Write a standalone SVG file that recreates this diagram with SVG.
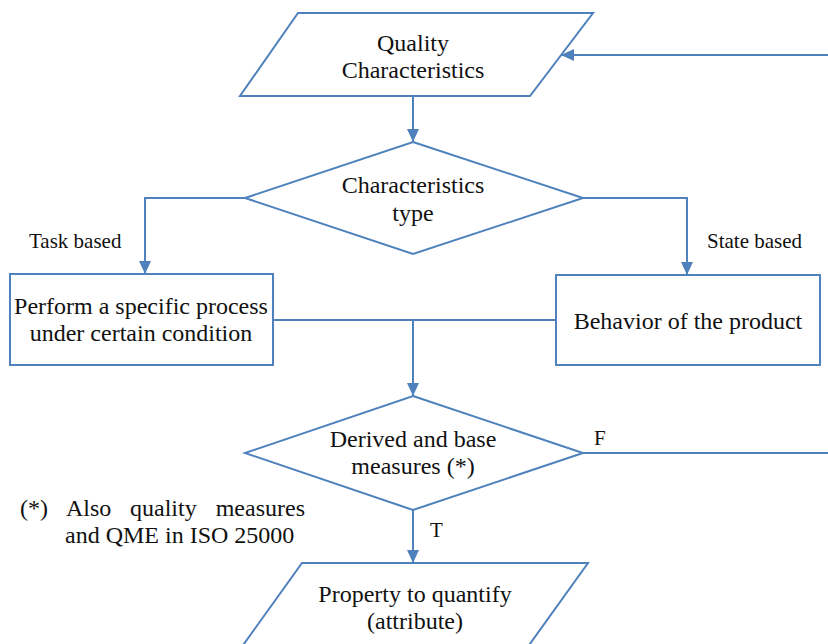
<svg xmlns="http://www.w3.org/2000/svg" width="828" height="644" viewBox="0 0 828 644">
  <defs>
    <marker id="arrow" viewBox="0 0 10 10" refX="10" refY="5" markerWidth="13" markerHeight="12" markerUnits="userSpaceOnUse" orient="auto" preserveAspectRatio="none">
      <path d="M0,0 L10,5 L0,10 z" fill="#4f81bd"/>
    </marker>
  </defs>
  <rect width="828" height="644" fill="#ffffff"/>

  <!-- connectors share one stroke style -->
  <g id="connectors" fill="none" stroke="#4f81bd" stroke-width="2">
    <path d="M828,55 L561,55" marker-end="url(#arrow)"/>
    <path d="M413,96 L413,142" marker-end="url(#arrow)"/>
    <path d="M245,198 L145,198 L145,274" marker-end="url(#arrow)"/>
    <path d="M583,198 L687,198 L687,275" marker-end="url(#arrow)"/>
    <path d="M273,320 L556,320"/>
    <path d="M413,320 L413,396" marker-end="url(#arrow)"/>
    <path d="M583,453 L828,453"/>
    <path d="M413,510 L413,563" marker-end="url(#arrow)"/>
  </g>

  <!-- nodes: white fill, blue outline, serif text -->
  <g id="nodes" fill="#ffffff" stroke="#4f81bd" stroke-width="2">
    <g id="quality-characteristics">
      <polygon points="298,13 593,13 530,96 240,96"/>
      <text stroke="none" fill="#111111" font-family="Liberation Serif" font-size="24" text-anchor="middle" x="413" y="51">Quality</text>
      <text stroke="none" fill="#111111" font-family="Liberation Serif" font-size="24" text-anchor="middle" x="413" y="78">Characteristics</text>
    </g>

    <g id="characteristics-type">
      <polygon points="413,142 583,198 413,254 245,198"/>
      <text stroke="none" fill="#111111" font-family="Liberation Serif" font-size="24" text-anchor="middle" x="413" y="193">Characteristics</text>
      <text stroke="none" fill="#111111" font-family="Liberation Serif" font-size="24" text-anchor="middle" x="413" y="221">type</text>
    </g>

    <g id="specific-process">
      <rect x="10" y="274" width="263" height="91"/>
      <text stroke="none" fill="#111111" font-family="Liberation Serif" font-size="24" text-anchor="middle" x="141" y="314">Perform a specific process</text>
      <text stroke="none" fill="#111111" font-family="Liberation Serif" font-size="24" text-anchor="middle" x="141" y="341">under certain condition</text>
    </g>

    <g id="product-behavior">
      <rect x="556" y="275" width="264" height="90"/>
      <text stroke="none" fill="#111111" font-family="Liberation Serif" font-size="24" text-anchor="middle" x="688" y="329">Behavior of the product</text>
    </g>

    <g id="measures">
      <polygon points="413,396 583,453 413,510 245,453"/>
      <text stroke="none" fill="#111111" font-family="Liberation Serif" font-size="24" text-anchor="middle" x="413" y="447">Derived and base</text>
      <text stroke="none" fill="#111111" font-family="Liberation Serif" font-size="24" text-anchor="middle" x="413" y="474">measures (*)</text>
    </g>

    <g id="property">
      <polygon points="302,563 588,563 527,648 241,648"/>
      <text stroke="none" fill="#111111" font-family="Liberation Serif" font-size="24" text-anchor="middle" x="415" y="602">Property to quantify</text>
      <text stroke="none" fill="#111111" font-family="Liberation Serif" font-size="24" text-anchor="middle" x="415" y="629">(attribute)</text>
    </g>
  </g>

  <!-- branch labels and footnote -->
  <g fill="#111111" font-family="Liberation Serif">
    <g id="label-task">
      <text font-family="Liberation Serif" font-size="21" x="29" y="248">Task based</text>
    </g>
    <g id="label-state">
      <text font-family="Liberation Serif" font-size="21" x="707" y="248">State based</text>
    </g>
    <g id="label-f">
      <text font-family="Liberation Serif" font-size="21" x="594" y="445">F</text>
    </g>
    <g id="label-t">
      <text font-family="Liberation Serif" font-size="21" x="430" y="537">T</text>
    </g>
    <g id="footnote">
      <text font-family="Liberation Serif" font-size="24" y="516"><tspan x="20">(*)</tspan><tspan x="66">Also</tspan><tspan x="130">quality</tspan><tspan x="305" text-anchor="end">measures</tspan></text>
      <text font-family="Liberation Serif" font-size="24" x="65" y="543">and QME in ISO 25000</text>
    </g>
  </g>
</svg>
